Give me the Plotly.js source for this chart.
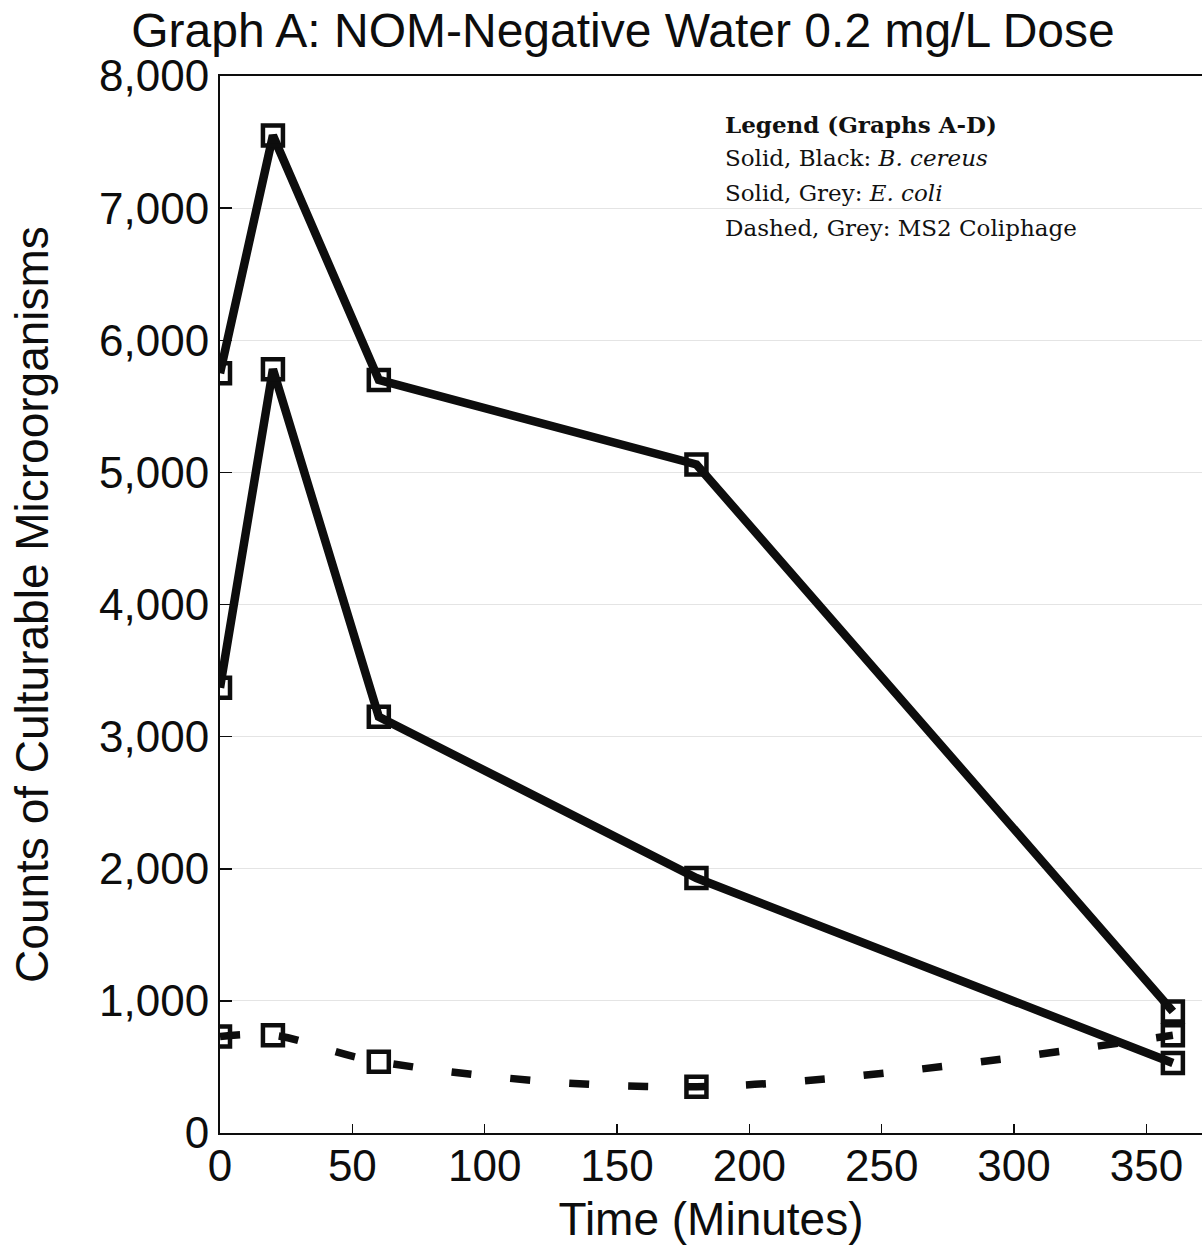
<!DOCTYPE html>
<html>
<head>
<meta charset="utf-8">
<script src="https://cdn.plot.ly/plotly-3.0.1.min.js"></script>
<style>
  html, body { margin: 0; padding: 0; background: #ffffff; }
  #chart { width: 1202px; height: 1251px; }
</style>
</head>
<body>
<div id="chart"></div>
<script>
// Sampling times (minutes)
const timeMinutes = [0, 20, 60, 180, 360];

// Counts of culturable microorganisms per series
const bCereus = [5750, 7550, 5700, 5060, 920];
const eColi   = [3370, 5780, 3150, 1930, 530];
const ms2     = [730, 740, 540, 350, 740];

const xTicks = [0, 50, 100, 150, 200, 250, 300, 350];
const yTicks = [0, 1000, 2000, 3000, 4000, 5000, 6000, 7000, 8000];

const legendLines = [
  '<b>Legend (Graphs A-D)</b>',
  'Solid, Black: <i>B. cereus</i>',
  'Solid, Grey: <i>E. coli</i>',
  'Dashed, Grey: MS2 Coliphage'
];

const sans = 'Liberation Sans, Arial, sans-serif';
const serif = 'DejaVu Serif, serif';
const ink = '#0d0d0d';

// Plot-area geometry in pixels (used only to place the text block)
const W = 1202, H = 1251;
const M = { l: 220, r: 0, t: 76, b: 118 };
const plotW = W - M.l - M.r, plotH = H - M.t - M.b;
const legendLeftPx = 723;
const legendRowsPx = [124, 158, 193, 228];

const squareMarker = { symbol: 'square-open', size: 20, color: ink, line: { color: ink, width: 4.5 } };

function solidTrace(y, name) {
  return {
    x: timeMinutes, y: y, name: name,
    type: 'scatter', mode: 'lines+markers',
    line: { color: ink, width: 8.5 },
    marker: squareMarker,
    cliponaxis: true
  };
}

const traces = [
  solidTrace(bCereus, 'B. cereus'),
  solidTrace(eColi, 'E. coli'),
  {
    x: timeMinutes, y: ms2, name: 'MS2 Coliphage',
    type: 'scatter', mode: 'lines+markers',
    line: { color: ink, width: 7.5, dash: '20px,39px', shape: 'spline', smoothing: 1 },
    marker: squareMarker,
    cliponaxis: true
  }
];

const annotations = legendLines.map((txt, i) => ({
  text: txt,
  xref: 'paper', yref: 'paper',
  x: (legendLeftPx - M.l) / plotW,
  y: (H - M.b - legendRowsPx[i]) / plotH,
  xanchor: 'left', yanchor: 'middle',
  showarrow: false,
  align: 'left',
  font: { family: serif, size: 23, color: '#111111' }
}));

const layout = {
  width: W, height: H,
  margin: M,
  paper_bgcolor: '#ffffff',
  plot_bgcolor: '#ffffff',
  showlegend: false,
  font: { family: sans, color: ink },
  title: {
    text: 'Graph A: NOM-Negative Water 0.2 mg/L Dose',
    font: { family: sans, size: 48, color: ink },
    xref: 'container', yref: 'container',
    x: 623 / W, xanchor: 'center',
    y: 1 - 30 / H, yanchor: 'middle'
  },
  xaxis: {
    range: [0, 371],
    tickvals: xTicks,
    ticktext: xTicks.map(String),
    ticks: 'inside', ticklen: 9, tickwidth: 1.5, tickcolor: ink,
    ticklabelstandoff: -7,
    showline: true, linecolor: ink, linewidth: 2, mirror: true,
    showgrid: false, zeroline: false,
    tickfont: { family: sans, size: 44, color: ink },
    title: { text: 'Time (Minutes)', font: { family: sans, size: 46, color: ink }, standoff: 14 }
  },
  yaxis: {
    range: [0, 8000],
    tickvals: yTicks,
    ticktext: yTicks.map(v => v.toLocaleString('en-US')),
    ticks: 'inside', ticklen: 12, tickwidth: 1.5, tickcolor: ink,
    showline: true, linecolor: ink, linewidth: 2, mirror: false,
    showgrid: true, gridcolor: '#e4e4e4', gridwidth: 1,
    zeroline: false,
    tickfont: { family: sans, size: 44, color: ink },
    title: { text: 'Counts of Culturable Microorganisms', font: { family: sans, size: 46, color: ink }, standoff: 36 }
  },
  annotations: annotations
};

Plotly.newPlot('chart', traces, layout, { displayModeBar: false, staticPlot: true });
</script>
</body>
</html>
